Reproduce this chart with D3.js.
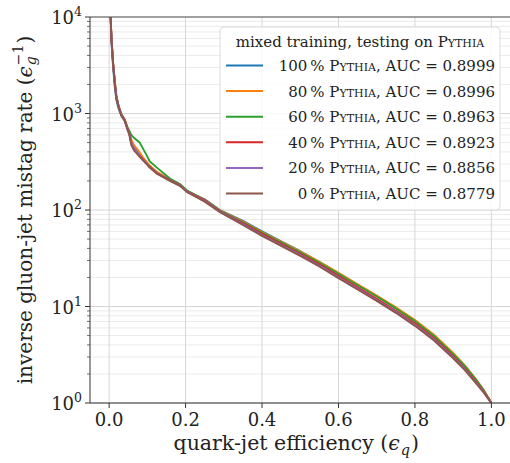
<!DOCTYPE html>
<html>
<head>
<meta charset="utf-8">
<script src="https://cdn.jsdelivr.net/npm/d3@7"></script>
<style>
  body { margin: 0; background: #fff; }
  svg { display: block; font-family: "DejaVu Serif", serif; }
  .sc { font-variant: small-caps; }
</style>
</head>
<body>
<svg id="chart" width="510" height="463"></svg>
<script>
// quark-jet efficiency grid shared by all curves
const effQ = [0.004, 0.006, 0.008, 0.0105, 0.015, 0.019, 0.025, 0.032, 0.041, 0.048,
  0.053, 0.058, 0.065, 0.075, 0.080, 0.089, 0.098, 0.106, 0.125, 0.159,
  0.185, 0.203, 0.25, 0.29, 0.35, 0.40, 0.45, 0.50, 0.55, 0.60,
  0.65, 0.70, 0.75, 0.80, 0.85, 0.90, 0.93, 0.96, 0.98, 0.99, 1.0];

// inverse gluon mistag rate, one array per training mix
const pythia100 = [10000, 5700, 4200, 3000, 1850, 1380, 1120, 950, 840, 700, 630, 510, 450, 395, 370, 338, 310, 285, 245, 206,
  184, 158, 129, 100, 77, 60, 47.3, 37.4, 29, 22.2, 16.9, 12.9, 9.7, 7.15, 5.02, 3.25, 2.44, 1.75, 1.35, 1.16, 1.0];
const pythia80 = [10000, 6300, 4800, 3400, 2150, 1520, 1200, 990, 860, 710, 640, 540, 470, 420, 395, 350, 315, 290, 248, 207,
  183, 158, 128, 99, 76, 59, 46.8, 37.2, 29, 22.3, 17.0, 13.0, 9.8, 7.25, 5.1, 3.3, 2.47, 1.76, 1.36, 1.17, 1.0];
const pythia60 = [10000, 6200, 4700, 3300, 2100, 1500, 1180, 980, 860, 720, 660, 600, 560, 520, 500, 430, 370, 320, 275, 212,
  186, 160, 127, 98, 74.5, 58, 46, 36.5, 28.4, 21.8, 16.6, 12.7, 9.55, 7.05, 4.95, 3.2, 2.42, 1.73, 1.35, 1.16, 1.0];
const pythia40 = [10000, 6100, 4600, 3250, 2050, 1480, 1170, 970, 850, 700, 620, 490, 430, 385, 365, 335, 305, 282, 242, 204,
  181, 157, 126, 97, 73, 56.5, 44.5, 35.2, 27.3, 20.8, 15.8, 12.0, 9.05, 6.7, 4.7, 3.05, 2.3, 1.66, 1.31, 1.15, 1.0];
const pythia20 = [10000, 6050, 4550, 3300, 2100, 1500, 1180, 980, 840, 690, 610, 500, 440, 390, 360, 330, 302, 278, 240, 202,
  180, 156, 124, 96, 71.5, 55, 43.3, 34.2, 26.5, 20.1, 15.3, 11.6, 8.8, 6.45, 4.55, 2.97, 2.25, 1.63, 1.3, 1.14, 1.0];
const pythia0 = [10000, 6000, 4500, 3200, 2000, 1450, 1150, 950, 830, 680, 600, 470, 415, 375, 355, 325, 300, 275, 238, 200,
  178, 154, 122, 95, 70, 54, 42.5, 33.5, 26, 19.7, 15, 11.4, 8.6, 6.3, 4.45, 2.9, 2.2, 1.6, 1.28, 1.13, 1.0];

const fractions = ["100", "80", "60", "40", "20", "0"];
const aucs = ["0.8999", "0.8996", "0.8963", "0.8923", "0.8856", "0.8779"];
const colors = ["#1f77b4", "#ff7f0e", "#2ca02c", "#d62728", "#9467bd", "#8c564b"];
const curves = [pythia100, pythia80, pythia60, pythia40, pythia20, pythia0];

const xTicks = [0.0, 0.2, 0.4, 0.6, 0.8, 1.0];
const yTicks = [1, 10, 100, 1000, 10000];

const svg = d3.select("#chart");
const pL = 90, pR = 510.5, pT = 17, pB = 403;

const x = d3.scaleLinear().domain([-0.05, 1.05]).range([pL, pR]);
const y = d3.scaleLog().domain([1, 10000]).range([pB, pT]);

// minor ticks at 2..9 x 10^k
const yMinor = [];
for (let k = 0; k < 4; k++) for (let m = 2; m <= 9; m++) yMinor.push(m * 10 ** k);

// grid (matplotlib which='both')
const grid = svg.append("g");
grid.selectAll("line.minor").data(yMinor).join("line")
  .attr("x1", pL).attr("x2", pR)
  .attr("y1", d => y(d)).attr("y2", d => y(d))
  .attr("stroke", "#ebebeb").attr("stroke-width", 1);
grid.selectAll("line.ymaj").data(yTicks).join("line")
  .attr("x1", pL).attr("x2", pR)
  .attr("y1", d => y(d)).attr("y2", d => y(d))
  .attr("stroke", "#d6d6d6").attr("stroke-width", 1);
grid.selectAll("line.xmaj").data(xTicks).join("line")
  .attr("x1", d => x(d)).attr("x2", d => x(d))
  .attr("y1", pT).attr("y2", pB)
  .attr("stroke", "#d6d6d6").attr("stroke-width", 1);

// curves, brown drawn last
const line = d3.line().x(d => x(d[0])).y(d => y(d[1]));
svg.append("clipPath").attr("id", "clip")
  .append("rect").attr("x", pL).attr("y", pT).attr("width", pR - pL).attr("height", pB - pT);
svg.append("g").attr("clip-path", "url(#clip)")
  .selectAll("path").data(curves).join("path")
  .attr("d", c => line(effQ.map((q, i) => [q, c[i]])))
  .attr("fill", "none")
  .attr("stroke", (c, i) => colors[i])
  .attr("stroke-width", 1.9)
  .attr("stroke-linejoin", "round");

// spines
svg.append("line").attr("x1", pL).attr("x2", pR).attr("y1", pT).attr("y2", pT)
  .attr("stroke", "#555").attr("stroke-width", 1);
svg.append("line").attr("x1", pL).attr("x2", pL).attr("y1", pT).attr("y2", pB)
  .attr("stroke", "#333").attr("stroke-width", 1);
svg.append("line").attr("x1", pL).attr("x2", pR).attr("y1", pB).attr("y2", pB)
  .attr("stroke", "#333").attr("stroke-width", 1);

// x axis ticks + labels
const xAx = svg.append("g");
xAx.selectAll("line").data(xTicks).join("line")
  .attr("x1", d => x(d)).attr("x2", d => x(d))
  .attr("y1", pB).attr("y2", pB + 5)
  .attr("stroke", "#333");
xAx.selectAll("text").data(xTicks).join("text")
  .attr("x", d => x(d)).attr("y", pB + 22.5)
  .attr("text-anchor", "middle").attr("font-size", 18).attr("fill", "#222")
  .text(d => d.toFixed(1));

// y axis ticks + labels
const yAx = svg.append("g");
yAx.selectAll("line.maj").data(yTicks).join("line")
  .attr("x1", pL - 5).attr("x2", pL)
  .attr("y1", d => y(d)).attr("y2", d => y(d))
  .attr("stroke", "#333");
yAx.selectAll("line.min").data(yMinor).join("line")
  .attr("x1", pL - 3).attr("x2", pL)
  .attr("y1", d => y(d)).attr("y2", d => y(d))
  .attr("stroke", "#333").attr("stroke-width", 0.7);
yAx.selectAll("text").data(yTicks).join("text")
  .attr("x", pL - 8).attr("y", d => y(d) + 7)
  .attr("text-anchor", "end").attr("font-size", 18).attr("fill", "#222")
  .each(function (d) {
    const t = d3.select(this);
    t.append("tspan").text("10");
    t.append("tspan").attr("dy", -8).attr("font-size", 12.5).text(Math.round(Math.log10(d)));
  });

// axis label "text (ϵ_sub^sup)" with stacked sub/superscript
function mathLabel(g, main, sub, sup, size) {
  const t = g.append("text").attr("font-size", size).attr("fill", "#222");
  t.append("tspan").text(main + " (");
  t.append("tspan").attr("font-style", "italic").text("\u03F5");
  const w = t.node().getComputedTextLength() + 1;
  const s1 = g.append("text").attr("x", w).attr("y", size * 0.22).attr("font-size", size * 0.7).attr("fill", "#222")
    .attr("font-style", "italic").text(sub);
  let w2 = 0;
  if (sup) {
    const s = g.append("text").attr("x", w).attr("y", -size * 0.45).attr("font-size", size * 0.7).attr("fill", "#222").text(sup);
    w2 = s.node().getComputedTextLength();
  }
  const end = w + Math.max(s1.node().getComputedTextLength(), w2) + 1;
  const c = g.append("text").attr("x", end).attr("font-size", size).attr("fill", "#222").text(")");
  return end + c.node().getComputedTextLength();
}
const xl = svg.append("g");
const xlw = mathLabel(xl, "quark-jet efficiency", "q", null, 20.5);
xl.attr("transform", `translate(${x(0.5) - 4 - xlw / 2}, 450)`);

const yl = svg.append("g");
const ylw = mathLabel(yl, "inverse gluon-jet mistag rate", "g", "\u22121", 20);
yl.attr("transform", `translate(32, ${(pT + pB) / 2 + ylw / 2}) rotate(-90)`);

// legend
const lg = svg.append("g");
const lx = 220, ly = 27, lw = 280, lh = 183;
lg.append("rect").attr("x", lx).attr("y", ly).attr("width", lw).attr("height", lh)
  .attr("rx", 4).attr("fill", "#fff").attr("fill-opacity", 0.85)
  .attr("stroke", "#dcdcdc").attr("stroke-width", 1);
const title = lg.append("text").attr("x", lx + lw / 2).attr("y", ly + 20)
  .attr("text-anchor", "middle").attr("font-size", 15).attr("fill", "#222");
title.append("tspan").text("mixed training, testing on ");
title.append("tspan").attr("class", "sc").text("Pythia");

fractions.forEach((f, i) => {
  const yy = ly + 38.5 + i * 25.6;
  lg.append("line").attr("x1", lx + 6).attr("x2", lx + 43)
    .attr("y1", yy).attr("y2", yy)
    .attr("stroke", colors[i]).attr("stroke-width", 2);
  const t = lg.append("text").attr("x", lx + lw - 5).attr("y", yy + 5.5)
    .attr("text-anchor", "end").attr("font-size", 15).attr("fill", "#222");
  t.append("tspan").text(f + "\u2009% ");
  t.append("tspan").attr("class", "sc").text("Pythia");
  t.append("tspan").text(", AUC = " + aucs[i]);
});
</script>
</body>
</html>
